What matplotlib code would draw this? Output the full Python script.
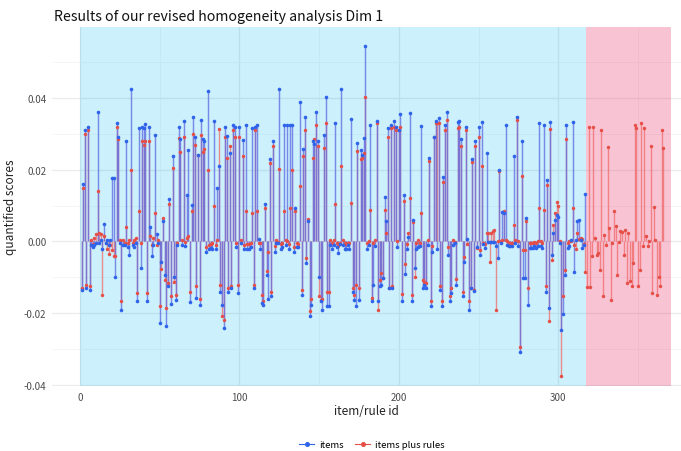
import matplotlib
matplotlib.use("Agg")
import matplotlib.pyplot as plt
import numpy as np
from matplotlib.lines import Line2D

plt.rcParams['font.family'] = ['Noto Sans CJK JP', 'DejaVu Sans']

title = "Results of our revised homogeneity analysis Dim 1"
x_label = "item/rule id"
y_label = "quantified scores"
legend_labels = ["items", "items plus rules"]
x_ticks = [0, 100, 200, 300]
y_ticks = [-0.04, -0.02, 0.00, 0.02, 0.04]
y_tick_labels = ["-0.04", "-0.02", "0.00", "0.02", "0.04"]
n_items = 317
n_total = 370

items = [
    -0.0135, 0.016, 0.031, -0.013, 0.032, -0.0135, -0.001, -0.0015, -0.001, -0.0005,
    0.036, -0.0005, 0.0005, -0.002, 0.005, -0.0005, 0.0005, -0.001, 0.0005, 0.0177,
    0.0177, -0.010, 0.033, 0.029, -0.0005, -0.019, -0.001, -0.001, 0.028, -0.0015,
    -0.0037, 0.0425, -0.001, -0.0015, -0.0005, -0.0165, 0.0316, -0.0074, 0.032, 0.0316,
    0.0328, -0.0165, 0.032, 0.004, -0.004, -0.001, 0.0297, 0.002, -0.0005, -0.0228,
    -0.0056, 0.0056, -0.0093, -0.0235, -0.0124, 0.0118, -0.0175, 0.0237, -0.010, -0.0163,
    -0.001, 0.0319, 0.0285, -0.001, 0.0336, -0.0014, 0.013, 0.0255, -0.0169, 0.0102,
    0.0348, 0.029, -0.0158, 0.024, -0.0177, 0.034, 0.0285, 0.028, -0.003, 0.042,
    -0.002, -0.0018, -0.002, 0.0336, -0.002, 0.0149, 0.021, -0.014, -0.0177, -0.0242,
    0.032, 0.0295, -0.014, 0.0248, -0.013, 0.0325, 0.032, -0.0016, -0.0144, 0.032,
    -0.0005, 0.0283, -0.002, 0.0325, -0.002, -0.002, -0.0015, 0.0316, -0.013, 0.032,
    0.0325, 0.0007, -0.002, -0.0172, -0.0177, 0.0105, -0.0093, -0.016, 0.0229, -0.0152,
    0.0281, -0.003, -0.0005, -0.0005, 0.0426, -0.002, -0.0015, 0.0325, -0.001, 0.0325,
    -0.002, 0.0325, 0.0325, -0.003, 0.0093, -0.0015, -0.0015, 0.039, -0.0149, 0.0258,
    0.0348, -0.006, 0.0056, -0.0209, -0.0177, 0.0279, 0.0272, 0.036, 0.028, -0.0098,
    -0.0167, -0.019, 0.0297, 0.0404, -0.0181, -0.0181, -0.001, -0.002, -0.001, 0.033,
    -0.0015, -0.0033, -0.0007, 0.0425, -0.001, -0.002, -0.002, -0.001, -0.002, 0.0342,
    -0.014, -0.0163, -0.018, 0.0274, -0.0163, 0.0255, 0.024, 0.0288, 0.0545, -0.002,
    -0.001, 0.0325, -0.0167, -0.012, -0.0014, 0.0336, -0.0165, -0.0125, -0.012, -0.0102,
    0.0125, 0.0058, 0.0316, -0.013, 0.0325, -0.013, 0.0336, 0.032, -0.0016, 0.031,
    0.0356, -0.0167, 0.013, -0.0091, -0.002, 0.0012, 0.0357, -0.0167, 0.006, -0.0074,
    -0.002, -0.0015, -0.0014, 0.0322, -0.013, -0.012, -0.013, -0.001, 0.0232, -0.018,
    -0.0028, 0.029, 0.0336, -0.002, 0.0344, -0.0135, -0.018, 0.018, 0.0325, 0.036,
    -0.0037, -0.0167, -0.0144, -0.001, -0.0005, -0.012, 0.0334, 0.0336, 0.0287, -0.0153,
    -0.0056, 0.0318, 0.0007, -0.0192, -0.013, 0.023, -0.0139, 0.0279, -0.0016, 0.0319,
    -0.0037, 0.0334, -0.0007, -0.0019, 0.0246, -0.0002, -0.0002, -0.0002, -0.0002, -0.0002,
    -0.0014, -0.0046, 0.020, -0.0005, 0.0081, 0.0078, 0.0325, -0.001, -0.0014, -0.0014,
    -0.0014, 0.0237, -0.0005, 0.0348, -0.0014, -0.0307, 0.0279, -0.0102, -0.0102, 0.0065,
    -0.0178, -0.0019, -0.0019, -0.0019, -0.0014, -0.0019, -0.0014, 0.033, -0.0014, -0.0019,
    0.0325, -0.014, 0.0172, -0.0186, 0.0332, -0.0037, 0.0025, 0.006, 0.0074, 0.0069,
    -0.0003, -0.0248, -0.0202, -0.0093, 0.0325, -0.0019, -0.0014, 0.0005, 0.0332, -0.0084,
    0.0005, 0.0056, 0.006, 0.0005, -0.0019, -0.0009, 0.0133,
]

items_plus_rules = [
    -0.013, 0.015, 0.030, -0.012, 0.031, -0.0125, 0.0005, -0.0008, 0.001, 0.002,
    0.014, 0.0025, 0.002, -0.015, 0.0015, -0.0005, -0.002, -0.0035, -0.001, -0.0025,
    -0.004, -0.004, 0.032, 0.0285, 0.0005, -0.0165, 0.0005, -0.0005, 0.004, -0.0005,
    0.0005, 0.020, -0.0005, 0.0005, 0.001, -0.0145, 0.0086, -0.0005, 0.028, 0.027,
    0.028, -0.0144, 0.028, 0.0015, -0.001, 0.001, 0.0079, -0.001, 0.0005, -0.018,
    -0.0078, 0.0065, -0.0107, -0.0186, -0.0115, 0.0105, -0.0153, 0.0204, -0.0112, -0.0149,
    -0.0005, 0.0288, 0.025, 0.0005, 0.029, -0.0002, 0.001, 0.0015, -0.014, 0.0084,
    0.030, 0.027, -0.0125, 0.024, -0.016, 0.0297, 0.025, 0.0258, -0.0015, 0.0198,
    -0.001, -0.0007, -0.0005, 0.0098, -0.001, 0.0005, 0.0313, -0.012, -0.0209, -0.022,
    0.029, 0.0232, -0.013, 0.0265, -0.0125, 0.031, 0.029, -0.0005, -0.012, 0.029,
    0.0005, 0.0237, -0.001, 0.0086, -0.0007, -0.0006, -0.0005, 0.008, -0.012, 0.031,
    0.0086, -0.0004, -0.0005, -0.015, -0.0165, 0.0093, -0.0082, -0.003, 0.022, -0.014,
    0.0267, -0.0014, 0.0005, -0.0001, 0.0202, -0.0006, -0.0005, 0.0086, 0.0005, 0.0002,
    -0.0007, 0.0093, 0.020, -0.0015, 0.0085, -0.0005, -0.0008, 0.0156, -0.0135, 0.0237,
    0.031, -0.0045, 0.0062, -0.0195, -0.016, 0.0232, 0.0285, 0.0325, 0.0267, -0.0153,
    -0.0162, -0.016, 0.026, 0.033, -0.014, -0.014, 0.0005, -0.0005, 0.0005, 0.0105,
    -0.0005, -0.0014, -0.0005, 0.021, 0.0005, -0.0005, -0.0008, -0.0003, -0.0005, 0.0107,
    -0.0131, -0.015, -0.012, 0.0251, -0.013, 0.023, 0.0232, 0.0246, 0.0402, -0.0005,
    0.0002, 0.0088, -0.0158, -0.0005, 0.0003, 0.033, -0.019, -0.0107, -0.0088, -0.0102,
    0.0088, 0.0023, 0.029, -0.013, 0.0316, -0.0125, 0.032, 0.031, 0.0002, 0.031,
    0.032, -0.0146, 0.0113, -0.0062, -0.0006, 0.0023, 0.012, -0.015, 0.0055, -0.0098,
    -0.0005, 0.0003, -0.0003, 0.0079, -0.0107, -0.0114, -0.0115, 0.0004, 0.0223, -0.0165,
    -0.0012, 0.029, 0.033, 0.033, 0.033, -0.0125, -0.0167, 0.0167, 0.031, 0.0338,
    -0.0015, -0.0153, -0.013, 0.0004, -0.0002, -0.0105, 0.0316, 0.0319, 0.0265, -0.014,
    -0.0044, 0.031, -0.0006, -0.0165, -0.013, 0.0222, -0.0135, 0.0267, -0.0019, 0.029,
    -0.0025, 0.021, -0.0005, -0.0008, 0.0023, 0.0025, -0.0056, 0.0023, 0.0028, 0.0033,
    -0.0192, 0.0001, 0.0197, 0.0001, 0.0005, 0.0086, 0.0005, 0.0001, -0.0003, -0.0003,
    -0.0003, 0.0046, 0.0005, 0.0338, 0.0001, -0.0293, 0.0183, -0.0025, -0.0025, 0.0056,
    -0.013, -0.0005, -0.0003, -0.0003, -0.0002, -0.0003, 0.0002, 0.0093, 0.0002, -0.0005,
    0.0088, -0.0125, 0.0158, -0.0223, 0.0313, -0.0053, 0.0046, 0.0079, 0.0111, 0.0098,
    0.0001, -0.0376, -0.0153, -0.008, 0.0285, -0.0005, 0.0001, 0.0001, 0.0093, -0.001,
    -0.0021, 0.0025, 0.0006, 0.001, 0.0007, -0.0006, -0.0084, -0.0127, 0.0319, -0.0127,
    -0.004, 0.0319, 0.0009, -0.0037, -0.0033, -0.0079, 0.031, -0.0151, 0.0019, -0.0009,
    0.0263, 0.0037, -0.0163, -0.0005, 0.0086, 0.0042, -0.0093, -0.0002, 0.0028, 0.0026,
    -0.0037, 0.0033, -0.0116, 0.0025, -0.0109, -0.0125, -0.0059, 0.0325, 0.0316, -0.0125,
    -0.0079, 0.033, -0.0012, 0.0316, 0.0016, -0.0012, 0.0002, 0.0267, -0.0144, 0.0096,
    0.0005, -0.0149, -0.0099, -0.0124, 0.031, 0.026,
]

x_items = np.arange(1, len(items) + 1)
x_rules = np.arange(1, len(items_plus_rules) + 1)

W, H = 681, 452
fig = plt.figure(figsize=(W / 100, H / 100), dpi=100)
ax = fig.add_axes([52 / W, 1 - 387 / H, (W - 52) / W, (387 - 28) / H])
ax.set_xlim(-17.6, 377)
ax.set_ylim(-0.0403, 0.0598)

# grid (theme_minimal style)
for xv in [0, 100, 200, 300]:
    ax.axvline(xv, color="#ebebeb", lw=0.9, zorder=0)
for xv in [50, 150, 250, 350]:
    ax.axvline(xv, color="#f4f4f4", lw=0.6, zorder=0)
for yv in y_ticks:
    ax.axhline(yv, color="#ebebeb", lw=0.9, zorder=0)
for yv in [-0.03, -0.01, 0.01, 0.03, 0.05]:
    ax.axhline(yv, color="#f4f4f4", lw=0.6, zorder=0)

# background regions
ax.axvspan(0, n_items + 0.5, color="#00b4f0", alpha=0.2, lw=0, zorder=1)
ax.axvspan(n_items + 0.5, n_total + 0.5, color="#e83c6e", alpha=0.3, lw=0, zorder=1)

red_line = "#f06a6a"
red_pt = "#e54f48"
blue_line = "#6470e2"
blue_pt = "#2f64ea"

ax.vlines(x_rules, 0, items_plus_rules, color=red_line, lw=1.0, alpha=0.75, zorder=2)
ax.vlines(x_items, 0, items, color=blue_line, lw=1.05, alpha=0.8, zorder=3)
ax.plot(x_rules, items_plus_rules, "o", color=red_pt, ms=2.5, mew=0, zorder=4)
ax.plot(x_items, items, "o", color=blue_pt, ms=2.6, mew=0, zorder=5)

for s in ax.spines.values():
    s.set_visible(False)
ax.tick_params(length=0, labelsize=7, labelcolor="#4d4d4d", pad=4)
ax.set_xticks(x_ticks)
ax.set_yticks(y_ticks)
ax.set_yticklabels(y_tick_labels)
ax.set_xlabel(x_label, fontsize=8.5, color="#222222", labelpad=2)
ax.set_ylabel(y_label, fontsize=8.5, color="#222222", labelpad=5)

fig.text(54 / W, 1 - 17 / H, title, fontsize=10.2, color="#111111", va="center", ha="left")

handles = [
    Line2D([0], [0], color=blue_pt, marker="o", ms=2.6, lw=0.8),
    Line2D([0], [0], color=red_pt, marker="o", ms=2.6, lw=0.8),
]
fig.legend(handles, legend_labels, loc="center", bbox_to_anchor=(372 / W, 1 - 446 / H),
           ncol=2, frameon=False, fontsize=6.8, handlelength=1.6, columnspacing=1.2,
           handletextpad=0.5)

fig.savefig("out.png", dpi=100)
